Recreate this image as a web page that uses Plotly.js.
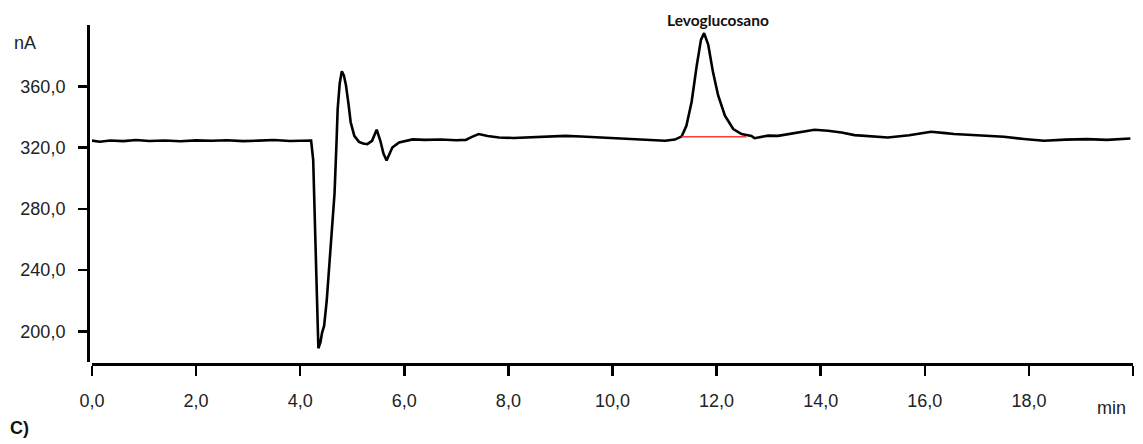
<!DOCTYPE html>
<html>
<head>
<meta charset="utf-8">
<script src="https://cdn.plot.ly/plotly-3.0.1.min.js"></script>
<style>
  html, body { margin: 0; padding: 0; background: #fff; }
  #chart { width: 1143px; height: 444px; }
</style>
</head>
<body>
<div id="chart"></div>
<script>
// Chromatogram: retention time (min) vs detector current (nA)
const tempo = [
  0.00, 0.15, 0.35, 0.60, 0.85, 1.10, 1.40, 1.70, 2.00, 2.30, 2.60, 2.90, 3.20, 3.50, 3.80, 4.05,
  4.21, 4.25, 4.29, 4.32, 4.35, 4.39, 4.42, 4.46, 4.51, 4.56, 4.61, 4.66, 4.70, 4.72, 4.76, 4.80,
  4.84, 4.88, 4.93, 4.97, 5.04, 5.13, 5.21, 5.29, 5.38, 5.47, 5.54, 5.60, 5.66, 5.72, 5.77, 5.90,
  6.03, 6.16, 6.40, 6.70, 7.00, 7.18, 7.30, 7.43, 7.60, 7.82, 8.10, 8.45, 8.80, 9.09, 9.40, 9.73,
  10.05, 10.37, 10.70, 11.01, 11.20, 11.33, 11.42, 11.52, 11.62, 11.70, 11.76, 11.84, 11.93, 12.03,
  12.16, 12.32, 12.48, 12.67, 12.73, 12.99, 13.18, 13.50, 13.88, 14.14, 14.40, 14.65, 15.00, 15.29,
  15.70, 16.12, 16.40, 16.56, 17.00, 17.52, 17.90, 18.29, 18.70, 19.12, 19.50, 19.95
];
const corrente = [
  324.5, 323.8, 324.6, 324.2, 324.9, 324.3, 324.6, 324.1, 324.7, 324.4, 324.8, 324.2, 324.5, 324.9, 324.3, 324.7,
  324.6, 312.0, 270.0, 225.0, 189.0, 193.0, 199.0, 203.5, 220.0, 242.0, 266.0, 290.0, 325.0, 345.0, 362.0, 369.8,
  367.0, 360.6, 348.0, 336.5, 327.6, 323.7, 322.6, 322.2, 324.4, 331.6, 324.4, 316.0, 311.6, 316.0, 320.0, 323.3,
  324.2, 325.3, 325.0, 325.3, 324.8, 325.0, 327.0, 328.8, 327.5, 326.6, 326.2, 326.6, 326.8, 327.6, 327.2, 326.6,
  325.8, 325.5, 324.8, 324.4, 325.2, 327.3, 334.2, 349.7, 373.8, 390.3, 394.7, 387.0, 369.4, 354.0,
  340.8, 332.1, 328.8, 327.6, 326.1, 327.8, 327.6, 329.5, 331.6, 331.0, 329.8, 328.1, 327.2, 326.6,
  328.0, 330.3, 329.4, 328.8, 328.0, 327.0, 325.6, 324.4, 325.2, 325.5, 325.0, 325.9
];

// Integration baseline under the levoglucosan peak
const baseTempo = [11.33, 12.57];
const baseCorrente = [327.0, 327.0];

// Peak label
const picoNome = "Levoglucosano";
const picoTempo = 12.03;

// Axis ticks
const xTicks = [0, 2, 4, 6, 8, 10, 12, 14, 16, 18, 20];
const xTickText = ["0,0", "2,0", "4,0", "6,0", "8,0", "10,0", "12,0", "14,0", "16,0", "18,0", ""];
const yTicks = [200, 240, 280, 320, 360];
const yTickText = ["200,0", "240,0", "280,0", "320,0", "360,0"];

const tickFont = { family: "Liberation Sans, Arial, sans-serif", size: 18, color: "#222" };

const traces = [
  {
    x: tempo, y: corrente, type: "scatter", mode: "lines",
    line: { color: "#000", width: 2.6 },
    hoverinfo: "skip"
  },
  {
    x: baseTempo, y: baseCorrente, type: "scatter", mode: "lines",
    line: { color: "#ff3b3b", width: 1.4 },
    hoverinfo: "skip"
  }
];

const layout = {
  width: 1143, height: 444,
  margin: { l: 88, r: 10, t: 25, b: 80 },
  paper_bgcolor: "#fff", plot_bgcolor: "#fff",
  showlegend: false,
  xaxis: {
    domain: [0.0038, 1],
    range: [0, 20],
    anchor: "free", position: 0,
    showgrid: false, zeroline: false,
    showline: true, linecolor: "#000", linewidth: 2.5,
    ticks: "outside", ticklen: 10, tickwidth: 2.5, tickcolor: "#000",
    tickvals: xTicks, ticktext: xTickText,
    tickfont: tickFont,
    ticklabelstandoff: 10
  },
  yaxis: {
    domain: [0.0059, 1],
    range: [180, 400],
    anchor: "free", position: 0,
    showgrid: false, zeroline: false,
    showline: true, linecolor: "#000", linewidth: 2.5,
    ticks: "outside", ticklen: 9, tickwidth: 2.5, tickcolor: "#000",
    tickvals: yTicks, ticktext: yTickText,
    tickfont: tickFont,
    ticklabelstandoff: 9
  },
  annotations: [
    {
      text: "<b>" + picoNome + "</b>", x: picoTempo, y: 1,
      xref: "x", yref: "paper", yanchor: "middle", yshift: 5,
      showarrow: false,
      font: { family: "Lato, Open Sans, sans-serif", size: 15.5, color: "#111" }
    },
    {
      text: "nA", xref: "paper", yref: "paper", x: -0.073, y: 1.0, xanchor: "left", yanchor: "middle",
      yshift: -18, showarrow: false, font: tickFont
    },
    {
      text: "min", xref: "paper", yref: "paper", x: 0.9995, y: 0, xanchor: "right", yanchor: "middle",
      yshift: -44, xshift: -4, showarrow: false, font: tickFont
    },
    {
      text: "<b>C)</b>", xref: "paper", yref: "paper", x: -0.077, y: 0, xanchor: "left", yanchor: "middle",
      yshift: -64, showarrow: false,
      font: { family: "Liberation Sans, Arial, sans-serif", size: 18, color: "#111" }
    }
  ]
};

Plotly.newPlot("chart", traces, layout, { displayModeBar: false, staticPlot: true });
</script>
</body>
</html>
